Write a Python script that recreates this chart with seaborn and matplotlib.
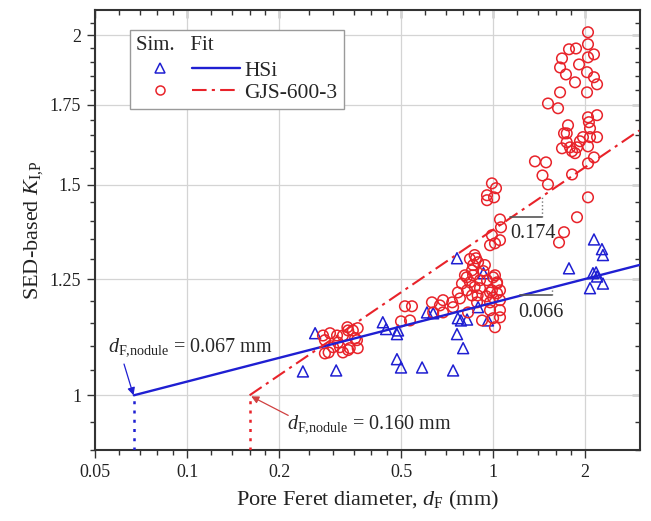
import matplotlib
matplotlib.use("Agg")
import matplotlib.pyplot as plt
import seaborn as sns
import numpy as np
import pandas as pd
from matplotlib.lines import Line2D
from matplotlib.legend_handler import HandlerTuple
from matplotlib.ticker import FixedLocator, NullFormatter, FixedFormatter

# ---------------- data ----------------
hsi_d = [2.136, 2.268, 2.285, 1.770, 2.120, 2.186, 2.285, 2.073, 2.170,
         0.762, 0.930, 0.893, 0.608, 0.637, 0.767, 0.822, 0.962, 0.762, 0.798,
         0.740, 0.586, 0.500, 0.485, 0.436, 0.447, 0.489, 0.485, 0.262, 0.239,
         0.307, 0.785]
hsi_k = [1.350, 1.325, 1.310, 1.277, 1.265, 1.257, 1.240, 1.229, 1.267,
         1.302, 1.265, 1.185, 1.173, 1.171, 1.160, 1.157, 1.155, 1.125, 1.095,
         1.049, 1.055, 1.055, 1.072, 1.151, 1.136, 1.133, 1.125, 1.127, 1.047,
         1.049, 1.155]

gjs_d = [2.042, 1.770, 1.866, 2.042, 2.136, 2.042, 1.679, 1.655, 1.909, 1.730,
         2.027, 2.136, 1.852, 2.186, 1.655, 2.027, 1.511, 1.630, 2.042, 2.186,
         1.757, 2.056, 1.705, 1.740, 2.073, 1.966, 2.073, 2.186, 1.922, 1.740,
         1.679, 1.783, 1.880, 2.042, 1.811, 1.852, 2.136, 1.370, 1.489, 2.042,
         1.450, 1.811, 1.511, 2.042, 1.880, 1.705, 1.642,
         0.991, 1.022, 0.955, 1.007, 0.955, 1.053, 1.061, 0.991, 1.053, 0.977,
         1.014, 0.870,
         0.860, 0.893, 0.853, 0.809, 0.860, 0.840, 0.791, 0.906, 0.955, 1.014,
         1.030, 0.767, 0.822, 0.853, 0.906, 0.977, 1.030, 0.779, 0.735, 0.686,
         0.631, 0.670, 0.637, 0.686, 0.740, 0.828, 0.886, 0.977, 1.053, 0.977,
         1.053, 1.000, 1.053, 0.920, 1.014, 1.000, 1.030, 0.991, 1.053, 1.000,
         0.940, 0.879, 0.840, 0.870, 0.930, 0.820, 0.950, 0.890,
         0.515, 0.543, 0.500, 0.535,
         0.278, 0.282, 0.282, 0.309, 0.311, 0.323, 0.323, 0.336, 0.336, 0.348,
         0.354, 0.361, 0.361, 0.316, 0.300, 0.290, 0.334, 0.359, 0.293, 0.340]
gjs_k = [2.012, 1.947, 1.950, 1.966, 1.928, 1.917, 1.913, 1.880, 1.891, 1.855,
         1.863, 1.845, 1.827, 1.820, 1.792, 1.792, 1.754, 1.738, 1.708, 1.715,
         1.682, 1.692, 1.656, 1.656, 1.672, 1.644, 1.644, 1.644, 1.631, 1.628,
         1.609, 1.612, 1.612, 1.615, 1.600, 1.594, 1.581, 1.569, 1.566, 1.563,
         1.527, 1.530, 1.501, 1.464, 1.409, 1.369, 1.342,
         1.504, 1.490, 1.470, 1.464, 1.456, 1.403, 1.382, 1.361, 1.348, 1.335,
         1.340, 1.310,
         1.285, 1.292, 1.272, 1.260, 1.260, 1.243, 1.240, 1.248, 1.248, 1.260,
         1.240, 1.219, 1.224, 1.212, 1.229, 1.219, 1.217, 1.205, 1.196, 1.201,
         1.196, 1.189, 1.173, 1.173, 1.185, 1.173, 1.196, 1.196, 1.201, 1.178,
         1.178, 1.160, 1.162, 1.155, 1.140, 1.255, 1.243, 1.224, 1.224, 1.207,
         1.285, 1.302, 1.300, 1.232, 1.270, 1.255, 1.210, 1.212,
         1.187, 1.187, 1.153, 1.155,
         1.122, 1.112, 1.084, 1.122, 1.107, 1.122, 1.086, 1.091, 1.133, 1.133,
         1.116, 1.095, 1.138, 1.097, 1.097, 1.086, 1.140, 1.112, 1.127, 1.095]

# fitted power-law lines (end points)
hsi_fit_d = [0.067, 3.0]
hsi_fit_k = [1.0, 1.285]
gjs_fit_d = [0.160, 3.0]
gjs_fit_k = [1.0, 1.665]

series_names = ["HSi", "GJS-600-3"]
x_ticks = [0.05, 0.1, 0.2, 0.5, 1, 2]
x_tick_labels = ["0.05", "0.1", "0.2", "0.5", "1", "2"]
x_minor = [0.06, 0.07, 0.08, 0.09, 0.12, 0.14, 0.16, 0.18, 0.25, 0.3, 0.35,
           0.4, 0.45, 0.6, 0.7, 0.8, 0.9, 1.2, 1.4, 1.6, 1.8]
y_ticks = [1, 1.25, 1.5, 1.75, 2]
y_tick_labels = ["1", "1.25", "1.5", "1.75", "2"]
y_minor = [0.9, 0.95, 1.05, 1.1, 1.15, 1.2, 1.3, 1.35, 1.4, 1.45, 1.55, 1.6,
           1.65, 1.7, 1.8, 1.85, 1.9, 1.95, 2.05]

# ---------------- style ----------------
sns.set_theme(style="white")
plt.rcParams["font.family"] = ["Liberation Serif", "DejaVu Serif"]
plt.rcParams["mathtext.fontset"] = "custom"
plt.rcParams["mathtext.rm"] = "Liberation Serif"
plt.rcParams["mathtext.it"] = "Liberation Serif:italic"
plt.rcParams["mathtext.bf"] = "Liberation Serif:bold"

BLUE = "#1f1fd2"
RED = "#e8232a"
DASHDOT = (0, (7, 2.5, 1.5, 2.5))

fig = plt.figure(figsize=(6.51, 5.21), dpi=100)
ax = fig.add_axes([95 / 651, 71 / 521, 545 / 651, 440 / 521])
ax.set_xscale("log")
ax.set_yscale("log")

df_h = pd.DataFrame({"d": hsi_d, "k": hsi_k})
df_g = pd.DataFrame({"d": gjs_d, "k": gjs_k})

sns.scatterplot(data=df_h, x="d", y="k", marker="^", s=62, color=BLUE,
                facecolor="none", edgecolor=BLUE, linewidth=1.1, ax=ax,
                legend=False, zorder=3)
sns.scatterplot(data=df_g, x="d", y="k", marker="o", s=58, color=RED,
                facecolor="none", edgecolor=RED, linewidth=1.1, ax=ax,
                legend=False, zorder=3)

sns.lineplot(x=hsi_fit_d, y=hsi_fit_k, color=BLUE, lw=1.7, ax=ax,
             estimator=None, sort=False, zorder=4)
sns.lineplot(x=gjs_fit_d, y=gjs_fit_k, color=RED, lw=1.5, linestyle=DASHDOT,
             ax=ax, estimator=None, sort=False, zorder=4)

ax.set_xlim(0.05, 3.02)
ax.set_ylim(0.9, 2.1)

# dotted drops at the nodule sizes
ax.plot([hsi_fit_d[0], hsi_fit_d[0]], [0.9, hsi_fit_k[0]], color=BLUE,
        lw=1.8, linestyle=(0, (1.2, 2.5)), zorder=4)
ax.plot([gjs_fit_d[0], gjs_fit_d[0]], [0.9, gjs_fit_k[0]], color=RED,
        lw=1.8, linestyle=(0, (1.2, 2.5)), zorder=4)

# annotations
ax.text(0.0552, 1.088, r"$d_{\mathrm{F{,}nodule}}$ = 0.067 mm", fontsize=14.5,
        ha="left", va="baseline", zorder=5)
ax.annotate("", xy=(0.0668, 1.0), xytext=(0.0622, 1.062),
            arrowprops=dict(arrowstyle="-|>", color=BLUE, lw=0.9,
                            mutation_scale=11, shrinkA=0, shrinkB=0), zorder=5)
ax.text(0.212, 0.938, r"$d_{\mathrm{F{,}nodule}}$ = 0.160 mm", fontsize=14.5,
        ha="left", va="baseline", zorder=5)
ax.annotate("", xy=(0.162, 0.998), xytext=(0.214, 0.962),
            arrowprops=dict(arrowstyle="-|>", color="#d04040", lw=0.9,
                            mutation_scale=11, shrinkA=0, shrinkB=0), zorder=5)

# slope markers
ax.plot([1.136, 1.441], [1.409, 1.409], color="#555555", lw=1.2, zorder=5)
ax.plot([1.441, 1.441], [1.409, 1.466], color="#777777", lw=1.0, ls=":", zorder=5)
ax.text(1.136, 1.355, "0.174", fontsize=14.5, ha="left", va="baseline", zorder=5)
ax.plot([1.224, 1.554], [1.214, 1.214], color="#555555", lw=1.2, zorder=5)
ax.plot([1.554, 1.554], [1.214, 1.231], color="#777777", lw=1.0, ls=":", zorder=5)
ax.text(1.21, 1.162, "0.066", fontsize=14.5, ha="left", va="baseline", zorder=5)

# ticks
ax.xaxis.set_major_locator(FixedLocator(x_ticks))
ax.xaxis.set_major_formatter(FixedFormatter(x_tick_labels))
ax.xaxis.set_minor_locator(FixedLocator(x_minor))
ax.xaxis.set_minor_formatter(NullFormatter())
ax.yaxis.set_major_locator(FixedLocator(y_ticks))
ax.yaxis.set_major_formatter(FixedFormatter(y_tick_labels))
ax.yaxis.set_minor_locator(FixedLocator(y_minor))
ax.yaxis.set_minor_formatter(NullFormatter())
ax.tick_params(which="both", direction="out", color="#333333", width=1.0,
               labelsize=13, labelcolor="#222222", bottom=True, left=True,
               top=False, right=False)
ax.tick_params(which="major", length=6, pad=4)
ax.tick_params(which="minor", length=3.5)

secx = ax.secondary_xaxis("top")
secx.xaxis.set_major_locator(FixedLocator(x_ticks))
secx.xaxis.set_minor_locator(FixedLocator(x_minor))
secx.tick_params(which="both", direction="in", labeltop=False, color="#333333", width=1.0)
secx.tick_params(which="major", length=6)
secx.tick_params(which="minor", length=3.5)
secx.spines["top"].set_visible(False)

secy = ax.secondary_yaxis("right")
secy.yaxis.set_major_locator(FixedLocator(y_ticks))
secy.yaxis.set_minor_locator(FixedLocator(y_minor))
secy.tick_params(which="both", direction="in", labelright=False, color="#333333", width=1.0)
secy.tick_params(which="major", length=6)
secy.tick_params(which="minor", length=3.5)
secy.spines["right"].set_visible(False)

ax.grid(True, which="major", color="#d4d4d4", lw=0.9, zorder=0)
ax.set_axisbelow(True)
for sp in ax.spines.values():
    sp.set_visible(True)
    sp.set_color("#333333")
    sp.set_linewidth(1.5)

ax.set_xlabel(r"Pore Feret diameter, $d_{\mathrm{F}}$ (mm)", fontsize=16,
              labelpad=6, color="#222222")
ax.set_ylabel(r"SED-based $K_{\mathrm{I{,}P}}$", fontsize=16, labelpad=3,
              color="#222222")

# legend
h_hsi = (Line2D([], [], ls="none", marker="^", ms=7, mfc="none", mec=BLUE, mew=1.1),
         Line2D([], [], color=BLUE, lw=1.7))
h_gjs = (Line2D([], [], ls="none", marker="o", ms=6.5, mfc="none", mec=RED, mew=1.1),
         Line2D([], [], color=RED, lw=1.5, linestyle=DASHDOT))
leg = ax.legend([h_hsi, h_gjs], series_names,
                handler_map={tuple: HandlerTuple(ndivide=None, pad=0.4)},
                title="Sim.   Fit", alignment="left", loc="upper left",
                bbox_to_anchor=(0.064, 0.955), borderaxespad=0, frameon=True,
                fancybox=False, edgecolor="#9a9a9a", framealpha=1,
                fontsize=15.5, title_fontsize=15, handlelength=4.8,
                handletextpad=0.2, labelspacing=0.08, borderpad=0.3)
leg.get_frame().set_linewidth(1.0)
leg.set_zorder(6)
leg._legend_box.sep = 4

fig.savefig("out.png", dpi=100)
